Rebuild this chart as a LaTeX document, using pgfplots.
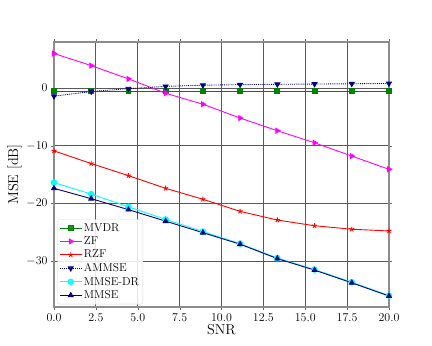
\documentclass[border=0pt]{standalone}
\usepackage{pgfplots}
\pgfplotsset{compat=1.18}
\definecolor{mplgreen}{RGB}{0,128,0}
\definecolor{mplmagenta}{RGB}{255,0,255}
\definecolor{mplred}{RGB}{255,0,0}
\definecolor{mplnavy}{RGB}{0,0,128}
\definecolor{mplcyan}{RGB}{0,255,255}
\begin{document}
\begin{tikzpicture}
  \begin{axis}[
      scale only axis,
      width=335bp, height=265bp,
      xmin=0, xmax=20, ymin=-38, ymax=8,
      xtick={0,2.5,...,20},
      ytick={-30,-20,-10,0},
      xticklabel style={/pgf/number format/.cd, fixed, fixed zerofill, precision=1},
      xlabel={SNR}, ylabel={MSE [dB]},
      label style={font=\Large},
      tick label style={font=\large},
      xlabel style={yshift=4pt},
      ylabel style={yshift=-2pt},
      grid=major, grid style={black!65, line width=0.8pt},
      axis line style={black!45, line width=1.2pt},
      tick align=outside, tick style={black!60},
      major tick length=3pt,
      legend style={font=\fontsize{11.5}{13.8}\selectfont, draw=black!15, rounded corners=2pt,
        fill=white, fill opacity=0.85, text opacity=1,
        at={(0.01,0.01)}, anchor=south west, row sep=0pt, inner sep=2pt},
      legend cell align=left,
      legend image code/.code={
        \draw[mark repeat=2,mark phase=2] plot coordinates {(0cm,0cm) (0.38cm,0cm) (0.76cm,0cm)};},
      every axis plot/.append style={line width=0.9pt, mark size=2.8pt}
    ]
    \addplot[color=mplgreen, mark=square*, mark size=2.4pt] coordinates {
      (0,-0.5) (2.222,-0.5) (4.444,-0.5) (6.667,-0.5) (8.889,-0.5)
      (11.111,-0.5) (13.333,-0.5) (15.556,-0.5) (17.778,-0.5) (20,-0.5)};
    \addlegendentry{MVDR}
    \addplot[color=mplmagenta, mark=triangle*, mark options={rotate=-90}] coordinates {
      (0,6.0) (2.222,3.9) (4.444,1.6) (6.667,-0.9) (8.889,-2.8)
      (11.111,-5.2) (13.333,-7.4) (15.556,-9.5) (17.778,-11.8) (20,-14.1)};
    \addlegendentry{ZF}
    \addplot[color=mplred, mark=star, mark size=2.6pt] coordinates {
      (0,-10.9) (2.222,-13.1) (4.444,-15.2) (6.667,-17.4) (8.889,-19.3)
      (11.111,-21.4) (13.333,-22.9) (15.556,-23.9) (17.778,-24.5) (20,-24.8)};
    \addlegendentry{RZF}
    \addplot[color=mplnavy, densely dotted, mark=triangle*, mark options={rotate=180, solid}] coordinates {
      (0,-1.4) (2.222,-0.6) (4.444,-0.1) (6.667,0.3) (8.889,0.5)
      (11.111,0.6) (13.333,0.65) (15.556,0.7) (17.778,0.75) (20,0.8)};
    \addlegendentry{AMMSE}
    \addplot[color=mplcyan, mark=*] coordinates {
      (0,-16.4) (2.222,-18.4) (4.444,-20.6) (6.667,-22.8) (8.889,-24.9)
      (11.111,-27.0) (13.333,-29.5) (15.556,-31.5) (17.778,-33.7) (20,-36.0)};
    \addlegendentry{MMSE-DR}
    \addplot[color=mplnavy, mark=triangle*] coordinates {
      (0,-17.4) (2.222,-19.2) (4.444,-21.1) (6.667,-23.1) (8.889,-25.1)
      (11.111,-27.1) (13.333,-29.6) (15.556,-31.6) (17.778,-33.8) (20,-36.1)};
    \addlegendentry{MMSE}
  \end{axis}
  \path[use as bounding box] (-54bp,-39bp) rectangle (378bp,307bp);
\end{tikzpicture}
\end{document}
